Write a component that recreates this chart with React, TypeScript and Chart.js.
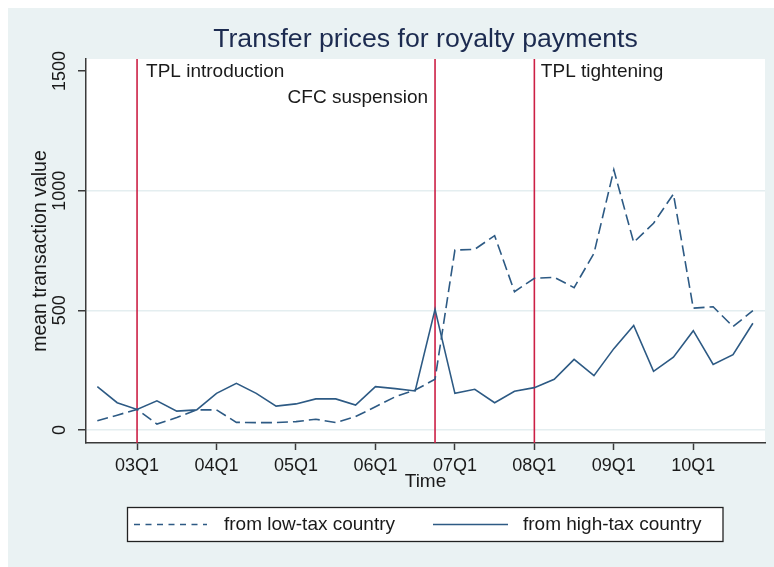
import React, { useEffect, useRef } from "react";
import { Chart, registerables } from "chart.js";

Chart.register(...registerables);

// ---------- data ----------
const quarters = [
  "2002Q3", "2002Q4",
  "2003Q1", "2003Q2", "2003Q3", "2003Q4",
  "2004Q1", "2004Q2", "2004Q3", "2004Q4",
  "2005Q1", "2005Q2", "2005Q3", "2005Q4",
  "2006Q1", "2006Q2", "2006Q3", "2006Q4",
  "2007Q1", "2007Q2", "2007Q3", "2007Q4",
  "2008Q1", "2008Q2", "2008Q3", "2008Q4",
  "2009Q1", "2009Q2", "2009Q3", "2009Q4",
  "2010Q1", "2010Q2", "2010Q3", "2010Q4",
];

const lowTax = [
  39, 62, 86, 25, 52, 84, 84, 32, 31, 31, 35, 45, 31, 56, 97, 139, 167, 212,
  752, 755, 812, 578, 634, 638, 595, 738, 1087, 784, 864, 986, 509, 515, 432, 499,
];

const highTax = [
  181, 114, 86, 122, 79, 84, 153, 195, 153, 100, 109, 130, 130, 104, 181, 173, 163, 504,
  153, 170, 114, 162, 177, 212, 295, 227, 340, 437, 245, 304, 415, 274, 315, 446,
];

const seriesLabels = ["from low-tax country", "from high-tax country"];

const tickQuarters = ["2003Q1", "2004Q1", "2005Q1", "2006Q1", "2007Q1", "2008Q1", "2009Q1", "2010Q1"];
const tickLabels = ["03Q1", "04Q1", "05Q1", "06Q1", "07Q1", "08Q1", "09Q1", "10Q1"];
const yTicks = [0, 500, 1000, 1500];
const yTickLabels = ["0", "500", "1000", "1500"];

const eventQuarters = ["2003Q1", "2006Q4", "2008Q1"];
const eventLabels = ["TPL introduction", "CFC suspension", "TPL tightening"];

// ---------- styles ----------
const FONT = "'Liberation Sans', Arial, Helvetica, sans-serif";
const BG = "#eaf2f3";
const GRID = "#e4eef0";
const AXIS = "#3a3a3a";
const TEXT = "#1a1a1a";
const LINE = "#2d5a84";
const RED = "#cc1f45";
// label placement for each event: side of the line, pixel gap, y value
const eventLabelStyle = [
  { side: "right", gap: 9, yVal: 1496 },
  { side: "left", gap: 7, yVal: 1387 },
  { side: "right", gap: 6.5, yVal: 1496 },
];

const stataPlugin = {
  id: "stataLook",
  beforeDraw(chart: any) {
    const { ctx, width, height, chartArea: a } = chart;
    ctx.save();
    ctx.fillStyle = BG;
    ctx.fillRect(0, 0, width, height);
    ctx.fillStyle = "#ffffff";
    ctx.fillRect(a.left, a.top, a.right - a.left, a.bottom - a.top);
    ctx.restore();
  },
  beforeDatasetsDraw(chart: any) {
    const { ctx, chartArea: a } = chart;
    const xs = chart.scales.x;
    const ys = chart.scales.y;
    ctx.save();
    eventQuarters.forEach((q, i) => {
      const px = xs.getPixelForValue(quarters.indexOf(q));
      ctx.strokeStyle = RED;
      ctx.lineWidth = 1.6;
      ctx.beginPath();
      ctx.moveTo(px, a.top);
      ctx.lineTo(px, a.bottom);
      ctx.stroke();
      const st = eventLabelStyle[i];
      ctx.fillStyle = TEXT;
      ctx.font = `19px ${FONT}`;
      ctx.textBaseline = "middle";
      ctx.textAlign = st.side === "right" ? "left" : "right";
      const tx = st.side === "right" ? px + st.gap : px - st.gap;
      ctx.fillText(eventLabels[i], tx, ys.getPixelForValue(st.yVal));
    });
    ctx.restore();
  },
  afterDraw(chart: any) {
    const { ctx } = chart;
    ctx.save();
    const L = { left: 119.5, top: 499.5, right: 715, bottom: 533.5 };
    ctx.fillStyle = "#ffffff";
    ctx.fillRect(L.left, L.top, L.right - L.left, L.bottom - L.top);
    ctx.strokeStyle = "#222222";
    ctx.lineWidth = 1.3;
    ctx.strokeRect(L.left, L.top, L.right - L.left, L.bottom - L.top);
    const cy = (L.top + L.bottom) / 2;
    const items = [
      { x0: 126, x1: 199, tx: 216, dash: [6, 5.5] },
      { x0: 425, x1: 500, tx: 515, dash: [] as number[] },
    ];
    items.forEach((it, i) => {
      ctx.strokeStyle = LINE;
      ctx.lineWidth = 1.6;
      ctx.setLineDash(it.dash);
      ctx.beginPath();
      ctx.moveTo(it.x0, cy);
      ctx.lineTo(it.x1, cy);
      ctx.stroke();
      ctx.setLineDash([]);
      ctx.fillStyle = TEXT;
      ctx.font = `19px ${FONT}`;
      ctx.textAlign = "left";
      ctx.textBaseline = "middle";
      ctx.fillText(seriesLabels[i], it.tx, cy);
    });
    ctx.restore();
  },
};

export default function App() {
  const ref = useRef<HTMLCanvasElement>(null);

  useEffect(() => {
    if (!ref.current) return;
    const chart = new Chart(ref.current, {
      type: "line",
      data: {
        datasets: [
          {
            label: seriesLabels[0],
            data: lowTax.map((v, i) => ({ x: i, y: v })),
            borderColor: LINE,
            borderWidth: 1.6,
            borderDash: [11, 5],
            pointRadius: 0,
            tension: 0,
            fill: false,
          },
          {
            label: seriesLabels[1],
            data: highTax.map((v, i) => ({ x: i, y: v })),
            borderColor: LINE,
            borderWidth: 1.6,
            pointRadius: 0,
            tension: 0,
            fill: false,
          },
        ],
      },
      options: {
        responsive: false,
        animation: false,
        devicePixelRatio: 1,
        layout: { padding: { top: 0, left: 0, right: 9, bottom: 64 } },
        plugins: {
          legend: { display: false },
          tooltip: { enabled: false },
          title: {
            display: true,
            fullSize: false,
            text: "Transfer prices for royalty payments",
            color: "#1c2b50",
            font: { size: 26.7, family: FONT, weight: "normal" },
            padding: { top: 15.3, bottom: 3.7 },
          },
        },
        scales: {
          x: {
            type: "linear",
            min: -0.57,
            max: 33.61,
            afterBuildTicks: (s: any) => {
              s.ticks = tickQuarters.map((q) => ({ value: quarters.indexOf(q) }));
            },
            afterFit: (s: any) => {
              s.height = 60;
            },
            ticks: {
              autoSkip: false,
              minRotation: 0,
              maxRotation: 0,
              padding: 4.9,
              color: TEXT,
              font: { size: 18, family: FONT },
              callback: (_v: any, i: number) => tickLabels[i],
            },
            grid: {
              drawOnChartArea: false,
              drawTicks: true,
              tickLength: 7,
              tickColor: AXIS,
              tickWidth: 1.5,
            },
            border: { display: true, color: AXIS, width: 1.5 },
            title: {
              display: true,
              text: "Time",
              color: TEXT,
              font: { size: 19, family: FONT },
              padding: { top: 0, bottom: 9.9 },
            },
          },
          y: {
            type: "linear",
            min: -54.3,
            max: 1550,
            afterBuildTicks: (s: any) => {
              s.ticks = yTicks.map((v) => ({ value: v }));
            },
            afterFit: (s: any) => {
              s.width = 78;
            },
            ticks: {
              autoSkip: false,
              minRotation: 90,
              maxRotation: 90,
              crossAlign: "center",
              padding: -2,
              color: TEXT,
              font: { size: 18, family: FONT },
              callback: (_v: any, i: number) => yTickLabels[i],
            },
            grid: {
              color: (c: any) => (c.tick && c.tick.value === 1500 ? "rgba(0,0,0,0)" : GRID),
              lineWidth: 1.5,
              drawTicks: true,
              tickLength: 8,
              tickColor: AXIS,
              tickWidth: 1.5,
            },
            border: { display: true, color: AXIS, width: 1.5 },
            title: {
              display: true,
              text: "mean transaction value",
              color: TEXT,
              font: { size: 19.5, family: FONT },
              padding: { top: 21.3, bottom: 0 },
            },
          },
        },
      } as any,
      plugins: [stataPlugin],
    });
    return () => chart.destroy();
  }, []);

  return (
    <div style={{ position: "fixed", left: 8, top: 8, width: 766, height: 559 }}>
      <canvas ref={ref} width={766} height={559} style={{ display: "block" }} />
    </div>
  );
}
